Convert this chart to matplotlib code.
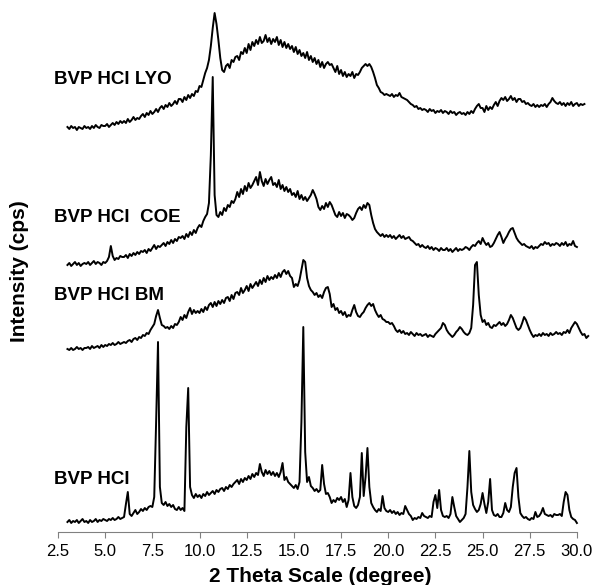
import numpy as np
import matplotlib
matplotlib.use("Agg")
import matplotlib.pyplot as plt

plt.rcParams['font.family'] = ['Liberation Sans', 'DejaVu Sans']

# 2 theta scan: start angle and step (degrees)
step = 0.1
start_lyo, start_coe, start_bm, start_hcl = 3.0, 3.0, 3.0, 3.0

# intensities (arbitrary units), one row per degree
lyo = [
    5, 3, 6, 4, 5, 2, 5, 4, 3, 6,
    4, 5, 3, 6, 4, 7, 5, 4, 7, 6,
    6, 8, 5, 7, 9, 7, 10, 8, 11, 9,
    11, 9, 13, 10, 12, 15, 12, 14, 13, 16,
    18, 15, 19, 17, 21, 18, 20, 23, 20, 24,
    26, 23, 27, 25, 29, 26, 28, 31, 28, 33,
    33, 30, 35, 32, 37, 34, 38, 36, 41, 40,
    46, 45, 52, 59, 64, 72, 86, 104, 119, 108,
    92, 74, 62, 60, 66, 68, 64, 72, 70, 75,
    76, 72, 80, 78, 84, 79, 88, 82, 90, 86,
    92, 88, 95, 89, 91, 97, 90, 94, 88, 93,
    90, 95, 87, 92, 85, 90, 84, 88, 83, 86,
    80, 85, 78, 82, 76, 79, 74, 80, 72, 76,
    70, 74, 68, 72, 65, 70, 64, 68, 70, 67,
    68, 64, 60, 66, 58, 62, 56, 60, 55, 58,
    56, 60, 54, 58, 57, 60, 64, 66, 68, 66,
    68, 65, 60, 54, 47, 44, 40, 39, 37, 38,
    37, 36, 38, 35, 37, 36, 39, 35, 34, 33,
    32, 30, 28, 27, 25, 26, 23, 24, 22, 23,
    22, 20, 23, 21, 22, 19, 21, 20, 22, 19,
    21, 20, 18, 21, 19, 20, 17, 19, 20, 18,
    19, 17, 20, 18, 21, 19, 23, 26, 28, 24,
    24, 20, 26, 22, 25, 23, 27, 30, 26, 31,
    34, 32, 35, 31, 33, 36, 32, 34, 30, 33,
    33, 30, 31, 28, 29, 27, 26, 28, 25, 27,
    25, 27, 26, 28, 25, 28, 30, 34, 31, 29,
    28, 30, 27, 29, 26, 29, 27, 30, 26, 28,
    29, 26, 28, 27, 28,
]

coe = [
    0, 2, -1, 1, 3, 0, 2, -1, 1, 2,
    1, 3, 0, 2, 4, 1, 3, 2, 0, 3,
    2, 4, 8, 19, 9, 5, 7, 6, 9, 8,
    8, 10, 7, 11, 9, 12, 10, 13, 11, 14,
    13, 15, 12, 16, 14, 17, 20, 16, 19, 18,
    20, 22, 19, 23, 21, 25, 22, 26, 24, 28,
    27, 29, 26, 31, 28, 33, 30, 35, 32, 37,
    40, 38, 44, 48, 51, 62, 110, 188, 70, 50,
    48, 53, 50, 57, 54, 60, 58, 64, 62, 66,
    73, 68, 76, 71, 79, 74, 82, 77, 80, 84,
    88, 80, 93, 84, 79, 86, 81, 85, 88, 80,
    82, 78, 85, 76, 80, 74, 78, 73, 76, 70,
    72, 68, 74, 66, 70, 65, 68, 64, 67, 70,
    75, 71, 66, 58, 55, 59, 56, 62, 58, 63,
    60, 55, 50, 48, 53, 49, 52, 47, 51, 50,
    48, 45, 47, 52, 56, 58, 55, 60, 57, 62,
    60, 50, 42, 36, 33, 31, 29, 31, 28, 30,
    28, 30, 27, 29, 26, 28, 30, 27, 29, 26,
    27, 28, 25, 24, 22, 20, 21, 18, 20, 18,
    17, 19, 16, 18, 15, 17, 16, 14, 17, 15,
    15, 17, 14, 16, 13, 15, 17, 14, 16, 15,
    16, 18, 17, 15, 18, 20, 19, 22, 24, 21,
    27, 23, 20, 22, 18, 19, 22, 26, 30, 33,
    28, 22, 26, 29, 33, 36, 37, 32, 27, 24,
    22, 20, 21, 19, 18, 17, 19, 16, 18, 17,
    19, 21, 20, 23, 21, 22, 19, 21, 20, 22,
    21, 19, 22, 20, 23, 19, 21, 20, 24, 19,
    18,
]

bm = [
    1, 0, 2, 0, 1, 3, 1, 2, 0, 2,
    2, 3, 1, 4, 2, 3, 4, 2, 5, 3,
    5, 4, 6, 5, 7, 5, 6, 8, 6, 7,
    8, 7, 9, 10, 8, 11, 12, 10, 13, 12,
    15, 14, 17, 16, 20, 23, 26, 34, 40, 32,
    25, 24, 22, 23, 21, 24, 22, 26, 25, 28,
    33, 30, 35, 32, 38, 42, 36, 40, 37, 39,
    37, 41, 38, 43, 40, 45, 47, 43, 48, 44,
    49, 46, 50, 47, 52, 53, 49, 55, 51, 57,
    58, 55, 62, 57, 60, 64, 59, 66, 62, 65,
    68, 64, 70, 66, 72, 68, 74, 70, 73, 71,
    75, 72, 77, 73, 78, 80, 76, 79, 74, 72,
    63, 66, 64, 70, 80, 90, 88, 72, 64, 60,
    58, 55, 57, 53, 55, 52, 58, 62, 63, 56,
    43, 46, 40, 42, 37, 39, 35, 38, 33, 35,
    34, 40, 45, 38, 34, 33, 36, 38, 42, 45,
    47, 44, 46, 40, 36, 33, 35, 31, 30, 28,
    28, 26, 27, 24, 20, 18, 20, 17, 19, 16,
    17, 15, 18, 16, 14, 17, 15, 16, 14, 15,
    16, 13, 15, 14, 13, 16, 18, 20, 22, 27,
    25, 20, 17, 15, 13, 15, 18, 20, 23, 21,
    18, 16, 15, 17, 22, 45, 85, 88, 55, 35,
    28, 30, 25, 27, 23, 22, 25, 24, 26, 28,
    25, 27, 24, 26, 30, 35, 32, 27, 22, 20,
    22, 27, 33, 30, 25, 20, 16, 13, 15, 14,
    16, 14, 17, 15, 16, 14, 17, 15, 16, 18,
    16, 17, 15, 18, 17, 20, 17, 22, 25, 28,
    26, 22, 18, 15, 16, 12, 14,
]

hcl = [
    0, 2, -1, 1, 0, 2, -1, 1, 3, 0,
    1, -1, 2, 0, 1, 3, 0, 2, 1, 3,
    2, 1, 3, 2, 4, 2, 3, 5, 3, 4,
    5, 18, 30, 8, 6, 9, 12, 8, 10, 13,
    11, 14, 12, 15, 16, 15, 25, 100, 180, 35,
    19, 17, 20, 16, 18, 15, 17, 13, 12, 15,
    12, 14, 11, 95, 134, 35, 27, 24, 28, 25,
    27, 24, 28, 26, 30, 27, 29, 31, 28, 32,
    30, 33, 34, 31, 35, 33, 37, 35, 38, 40,
    42, 38, 43, 40, 44, 42, 46, 43, 48, 45,
    49, 47, 58, 50, 46, 52, 48, 51, 47, 50,
    46, 49, 45, 50, 59, 42, 45, 40, 38, 36,
    34, 37, 33, 40, 100, 195, 70, 40, 45, 36,
    34, 31, 33, 30, 32, 57, 38, 28, 29, 25,
    19, 22, 20, 24, 22, 25, 20, 23, 15, 22,
    49, 25, 16, 14, 17, 25, 69, 26, 45, 74,
    35, 19, 15, 12, 10, 13, 11, 26, 14, 11,
    10, 12, 9, 11, 8, 10, 7, 9, 8, 16,
    12, 8, 6, 2, 4, 3, 5, 4, 9, 6,
    5, 4, 6, 5, 20, 27, 14, 32, 12, 6,
    5, 6, 4, 8, 25, 15, 6, 3, 0, 2,
    4, 8, 35, 71, 30, 17, 13, 10, 12, 18,
    29, 18, 9, 20, 43, 12, 7, 6, 8, 5,
    5, 9, 19, 12, 10, 15, 35, 49, 54, 25,
    9, 6, 4, 5, 3, 2, 4, 3, 10, 5,
    6, 9, 14, 8, 7, 6, 7, 5, 8, 7,
    7, 8, 6, 20, 30, 27, 12, 5, 3, 2,
    -1,
]

labels = ['BVP HCl LYO', 'BVP HCl  COE', 'BVP HCl BM', 'BVP HCl']
tick_vals = [2.5, 5.0, 7.5, 10.0, 12.5, 15.0, 17.5, 20.0, 22.5, 25.0, 27.5, 30.0]

# vertical stacking of the patterns
offsets = [400, 267, 182, 10]
label_y = [452, 314, 237, 53]

fig = plt.figure(figsize=(5.97, 5.85), dpi=100)
ax = fig.add_axes([58 / 597, 53 / 585, 534 / 597, 525 / 585])

series = [(start_lyo, lyo), (start_coe, coe), (start_bm, bm), (start_hcl, hcl)]
for (t0, vals), off, lab, ly in zip(series, offsets, labels, label_y):
    theta = t0 + step * np.arange(len(vals))
    ax.plot(theta, np.array(vals) + off, color='black', lw=1.4)
    ax.text(2.3, ly, lab, fontsize=13.5, fontweight='bold', va='center', ha='left')

ax.set_xlim(2.5, 30.8)
ax.set_ylim(0, 525)
ax.set_yticks([])
for s in ['left', 'top', 'right']:
    ax.spines[s].set_visible(False)
ax.spines['bottom'].set_bounds(2.5, 30.0)
ax.spines['bottom'].set_color('#808080')
ax.set_xticks(tick_vals)
ax.set_xticklabels([f'{v:.1f}' for v in tick_vals], fontsize=12)
ax.tick_params(axis='x', direction='out', length=4, color='#808080', pad=5)

fig.text(320 / 597, 1 - 577 / 585, '2 Theta Scale (degree)', fontsize=15,
         fontweight='bold', ha='center', va='center')
fig.text(20 / 597, 1 - 271 / 585, 'Intensity (cps)', fontsize=15,
         fontweight='bold', ha='center', va='center', rotation=90)

fig.savefig('out.png', dpi=100)
